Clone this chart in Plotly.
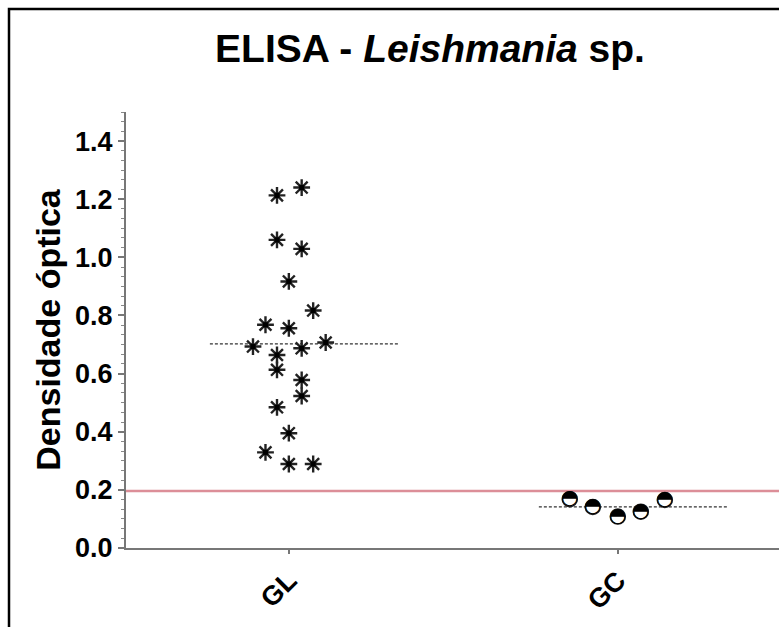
import plotly.graph_objects as go

# ---- data ----
groups = ["GL", "GC"]
gl_values = [1.213, 1.240, 1.060, 1.029, 0.917, 0.817, 0.768, 0.756, 0.693, 0.687,
             0.707, 0.664, 0.613, 0.578, 0.523, 0.484, 0.395, 0.329, 0.289, 0.289]
gl_jitter = [-0.036, 0.039, -0.036, 0.039, 0.0, 0.074, -0.071, 0.0, -0.109, 0.039,
             0.112, -0.036, -0.036, 0.039, 0.039, -0.036, 0.0, -0.071, 0.0, 0.074]
gc_values = [0.168, 0.141, 0.108, 0.125, 0.165]
gc_jitter = [-0.146, -0.076, 0.0, 0.070, 0.143]
cutoff = 0.196
y_ticks = [0.0, 0.2, 0.4, 0.6, 0.8, 1.0, 1.2, 1.4]
title_html = "<b>ELISA - <i>Leishmania</i> sp.</b>"
y_title = "<b>Densidade óptica</b>"

# ---- layout geometry ----
W, H = 779, 627
ml, mr, mt, mb = 126, 0, 112, 79
pw, ph = W - ml - mr, H - mt - mb

fig = go.Figure()

gl_mean = sum(gl_values) / len(gl_values)
gc_mean = sum(gc_values) / len(gc_values)

# mean lines
for gi, m in enumerate([gl_mean, gc_mean]):
    fig.add_trace(go.Scatter(
        x=[gi - 0.24, gi + 0.335], y=[m, m], mode="lines",
        line=dict(color="#333333", width=1.2, dash="3px,2px"),
        hoverinfo="skip", showlegend=False))

# GL points: asterisks
fig.add_trace(go.Scatter(
    x=[0 + j for j in gl_jitter], y=gl_values, mode="markers",
    marker=dict(symbol="asterisk-open", size=14, color="#222222",
                line=dict(color="#222222", width=2.4)),
    showlegend=False))
fig.add_trace(go.Scatter(
    x=[0 + j for j in gl_jitter], y=gl_values, mode="markers",
    marker=dict(symbol="square", size=5, color="#000000"),
    showlegend=False, hoverinfo="skip"))

# GC points: half-filled circles
fig.add_trace(go.Scatter(
    x=[1 + j for j in gc_jitter], y=gc_values, mode="markers",
    marker=dict(symbol="circle", size=15, color="white",
                line=dict(color="#222222", width=1.5)),
    showlegend=False))
fig.add_trace(go.Scatter(
    x=[1 + j for j in gc_jitter], y=gc_values, mode="text",
    text=["◓"] * len(gc_values), textposition="middle center",
    textfont=dict(family="DejaVu Sans", size=20, color="#000000"),
    showlegend=False, hoverinfo="skip"))

# cutoff line
fig.add_shape(type="line", xref="paper", x0=0, x1=1, yref="y", y0=cutoff, y1=cutoff,
              line=dict(color="#dc8e98", width=2.5), layer="below")

# outer frame (only top & left visible in the picture)
fig.add_shape(type="rect", xref="paper", yref="paper",
              x0=(9 - ml) / pw, x1=(W + 20 - ml) / pw,
              y0=-(H + 20 - mt - ph) / ph, y1=1 + (mt - 9) / ph,
              line=dict(color="#000000", width=2.5), fillcolor="rgba(0,0,0,0)")

fig.update_layout(
    width=W, height=H,
    margin=dict(l=ml, r=mr, t=mt, b=mb, pad=0),
    paper_bgcolor="white", plot_bgcolor="white",
    title=dict(text=title_html, x=(430) / W, xanchor="center", y=1 - 48 / H, yanchor="middle",
               font=dict(family="Liberation Sans, Arial", size=39, color="#000000")),
    font=dict(family="Liberation Sans, Arial", color="#000000"),
    xaxis=dict(range=[-0.495, 1.49], tickvals=[0, 1], ticktext=["<b>%s</b>" % g for g in groups],
               tickangle=-45, tickfont=dict(size=27, color="#000000"),
               showline=True, linecolor="#777777", linewidth=2,
               ticks="outside", ticklen=4, tickwidth=1.5, tickcolor="#777777",
               showgrid=False, zeroline=False),
    yaxis=dict(range=[0, 1.5], tickvals=y_ticks,
               ticktext=["<b>%.1f</b>" % v for v in y_ticks],
               tickfont=dict(size=27, color="#000000"),
               showline=True, linecolor="#777777", linewidth=2,
               ticks="outside", ticklen=6, tickwidth=1.5, tickcolor="#777777",
               minor=dict(ticks="outside", ticklen=3, dtick=0.2 / 6, tick0=0,
                          tickcolor="#888888", tickwidth=1),
               showgrid=False, zeroline=False,
               title=dict(text=y_title, font=dict(size=34, color="#000000"), standoff=4)),
)

fig.write_html("out.html")
